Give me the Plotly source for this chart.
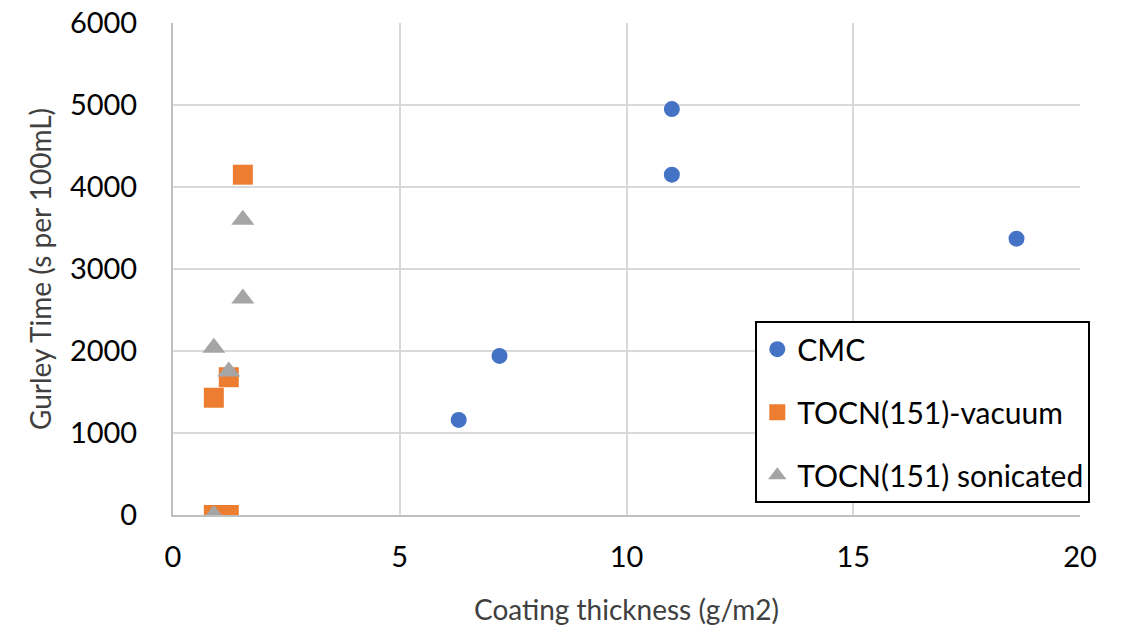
import plotly.graph_objects as go

cmc_x = [6.3, 7.2, 11.0, 11.0, 18.6]
cmc_y = [1160, 1940, 4950, 4150, 3370]

vac_x = [1.54, 1.23, 0.9, 0.9, 1.23]
vac_y = [4150, 1680, 1430, 0, 0]

son_x = [1.54, 1.54, 0.9, 1.23, 0.9]
son_y = [3600, 2640, 2040, 1750, 0]

FONT = "Lato"

fig = go.Figure()
fig.add_trace(go.Scatter(x=cmc_x, y=cmc_y, mode="markers", name="CMC", legendgroup="a",
                         marker=dict(symbol="circle", size=16, color="#4472C4")))
fig.add_trace(go.Scatter(x=vac_x, y=vac_y, mode="markers", name="TOCN(151)-vacuum", legendgroup="b",
                         marker=dict(symbol="square", size=20, color="#ED7D31")))
fig.add_trace(go.Scatter(x=son_x, y=son_y, mode="markers", name="TOCN(151) sonicated", legendgroup="c",
                         marker=dict(symbol="triangle-up", size=20, color="#A5A5A5")))

fig.update_layout(
    width=1135, height=633,
    margin=dict(l=173, r=55, t=23, b=118),
    paper_bgcolor="white", plot_bgcolor="white",
    font=dict(family=FONT, color="#404040"),
    showlegend=True,
    legend=dict(x=0.642, y=0.394, xanchor="left", yanchor="top",
                bgcolor="white", bordercolor="black", borderwidth=2,
                font=dict(size=30, color="black", family=FONT),
                tracegroupgap=21, itemsizing="trace"),
    xaxis=dict(range=[0, 20], dtick=5, showgrid=True, gridcolor="#D9D9D9", gridwidth=2,
               showline=True, linecolor="#BFBFBF", linewidth=2, mirror=False,
               zeroline=False, ticks="", ticklabelstandoff=15, automargin=False,
               tickfont=dict(size=29, color="black", family=FONT),
               title=dict(text="Coating thickness (g/m2)", standoff=29,
                          font=dict(size=28, color="#404040", family=FONT))),
    yaxis=dict(range=[0, 6000], dtick=1000, showgrid=True, gridcolor="#D9D9D9", gridwidth=2,
               showline=True, linecolor="#BFBFBF", linewidth=2,
               zeroline=False, ticks="", ticklabelstandoff=28, automargin=False,
               tickfont=dict(size=29, color="black", family=FONT),
               title=dict(text="Gurley Time (s per 100mL)", standoff=10,
                          font=dict(size=28, color="#404040", family=FONT))),
)

fig.write_html("out.html")
